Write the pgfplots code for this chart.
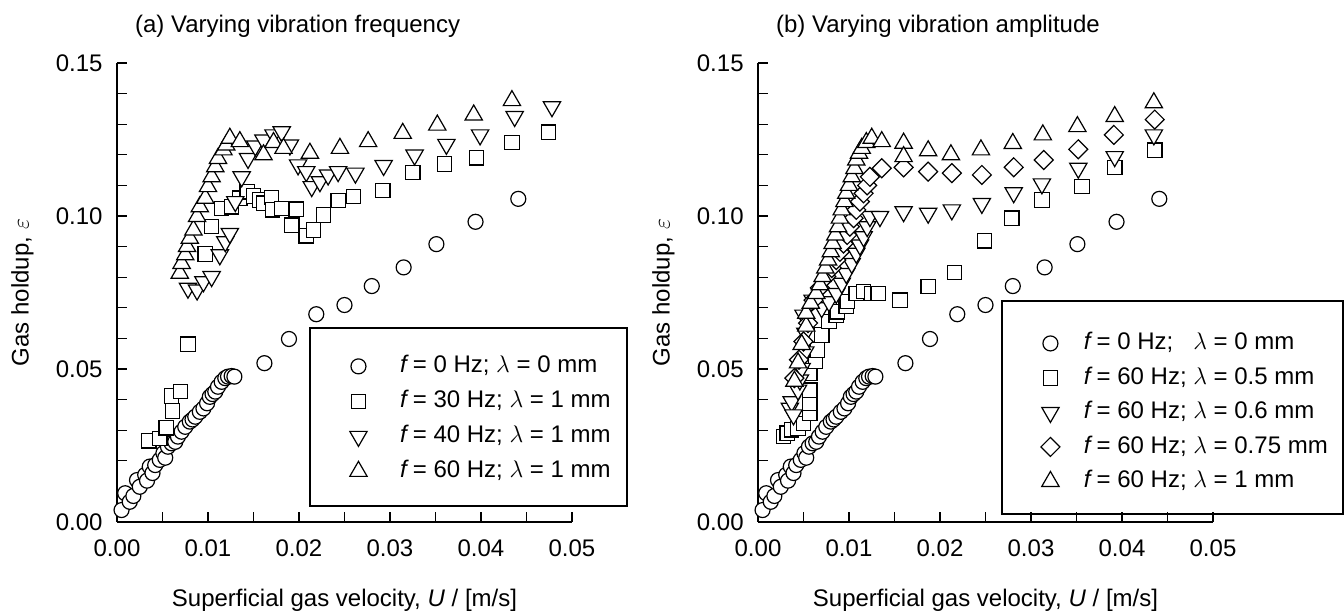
\documentclass[border=0pt]{standalone}
\usepackage{pgfplots}
\pgfplotsset{compat=1.18}
\usepackage{fontspec}
\setmainfont{Liberation Sans}
\begin{document}
\begin{tikzpicture}[font=\fontsize{12}{14.4}\selectfont]
\pgfplotsset{
  myaxis/.style={
    scale only axis, width=227.5pt, height=229.5pt,
    xmin=0, xmax=0.05, ymin=0, ymax=0.15,
    axis lines=left, axis line style={-, line width=0.6pt},
    tick align=inside, major tick length=5pt, minor tick length=5pt,
    every tick/.style={black, line width=0.6pt},
    xtick={0,0.01,0.02,0.03,0.04,0.05}, minor x tick num=1,
    ytick={0,0.05,0.1,0.15}, minor y tick num=4,
    scaled ticks=false,
    /pgf/number format/fixed, /pgf/number format/fixed zerofill,
    /pgf/number format/precision=2, /pgf/number format/assume math mode=true,
    xticklabel style={anchor=base, yshift=-17.5pt, inner sep=0pt},
    yticklabel style={anchor=east, xshift=-7pt, inner sep=0pt},
    clip=false,
    xlabel={Superficial gas velocity, \textit{U} / [m/s]},
    ylabel={Gas holdup, $\varepsilon$},
    xlabel style={at={(axis description cs:0.5,0)}, anchor=base, yshift=-42.5pt},
    ylabel style={at={(axis description cs:-0.2077,0.5)}, anchor=center, rotate=0},
    legend cell align=left,
    legend image code/.code={\draw[#1] plot coordinates {(0pt,0pt)};},
  },
  mcirc/.style={only marks, mark=*, mark size=3.75pt, mark options={fill=white, draw=black, line width=0.6pt}},
  msq/.style={only marks, mark=square*, mark size=3.6pt, mark options={fill=white, draw=black, line width=0.6pt}},
  mdown/.style={only marks, mark=triangle*, mark size=5pt, mark options={fill=white, draw=black, line width=0.6pt, rotate=180}},
  mup/.style={only marks, mark=triangle*, mark size=5pt, mark options={fill=white, draw=black, line width=0.6pt}},
  mdia/.style={only marks, mark=square*, mark size=3.35pt, mark options={fill=white, draw=black, line width=0.6pt, rotate=45}},
}
% ---------------- (a) ----------------
\begin{axis}[myaxis,
  legend style={draw=none, fill=none, inner sep=0pt, row sep=6pt, column sep=16.5pt,
    nodes={inner sep=0pt, text height=9pt, text depth=2.5pt},
    at={(axis cs:0.02554,0.0337)}, anchor=west}]
\addplot[mcirc] coordinates {
(0.0005,0.0039) (0.0009,0.0094) (0.0014,0.0066) (0.0018,0.0085) (0.0022,0.0137)
(0.0025,0.0115) (0.0031,0.0154) (0.0033,0.0135) (0.0036,0.0181) (0.0039,0.0160)
(0.0042,0.0186) (0.0047,0.0203) (0.0051,0.0225) (0.0053,0.0210) (0.0056,0.0246)
(0.0060,0.0257) (0.0064,0.0262) (0.0067,0.0279) (0.0071,0.0295) (0.0075,0.0311)
(0.0080,0.0328) (0.0083,0.0335) (0.0086,0.0344) (0.0091,0.0360) (0.0095,0.0371)
(0.0099,0.0388) (0.0102,0.0409) (0.0105,0.0418) (0.0108,0.0426) (0.0111,0.0442)
(0.0115,0.0458) (0.0119,0.0470) (0.0122,0.0475) (0.0126,0.0477) (0.0129,0.0475)
(0.0162,0.0519) (0.0189,0.0598) (0.0219,0.0679) (0.0250,0.0709) (0.0280,0.0771)
(0.0315,0.0832) (0.0351,0.0908) (0.0394,0.0981) (0.0441,0.1056)};
\addlegendentry{\textit{f}\,= 0 Hz; $\lambda$ = 0 mm}
\addplot[msq] coordinates {
(0.0035,0.0265) (0.0047,0.0273) (0.0054,0.0308) (0.0061,0.0363) (0.0060,0.0412)
(0.0070,0.0426) (0.0078,0.0581) (0.0097,0.0876) (0.0104,0.0965) (0.0115,0.1025)
(0.0126,0.1030) (0.0135,0.1058) (0.0143,0.1079) (0.0150,0.1065) (0.0157,0.1052)
(0.0161,0.1042) (0.0170,0.1061) (0.0171,0.1020) (0.0181,0.1025) (0.0192,0.0970)
(0.0197,0.1022) (0.0208,0.0935) (0.0216,0.0954) (0.0227,0.1003) (0.0243,0.1050)
(0.0260,0.1064) (0.0292,0.1083) (0.0325,0.1142) (0.0360,0.1170) (0.0395,0.1190)
(0.0434,0.1240) (0.0474,0.1274)};
\addlegendentry{\textit{f}\,= 30 Hz; $\lambda$ = 1 mm}
\addplot[mdown] coordinates {
(0.0078,0.0764) (0.0088,0.0758) (0.0095,0.0785) (0.0104,0.0802) (0.0113,0.0873)
(0.0119,0.0916) (0.0124,0.0943) (0.0130,0.1047) (0.0137,0.1128) (0.0144,0.1188)
(0.0152,0.1229) (0.0161,0.1248) (0.0172,0.1265) (0.0181,0.1275) (0.0190,0.1232)
(0.0199,0.1167) (0.0208,0.1145) (0.0214,0.1096) (0.0223,0.1112) (0.0232,0.1134)
(0.0243,0.1145) (0.0262,0.1140) (0.0293,0.1165) (0.0327,0.1199) (0.0362,0.1234)
(0.0399,0.1265) (0.0437,0.1325) (0.0478,0.1357)};
\addlegendentry{\textit{f}\,= 40 Hz; $\lambda$ = 1 mm}
\addplot[mup] coordinates {
(0.0069,0.0813) (0.0071,0.0845) (0.0075,0.0873) (0.0077,0.0900) (0.0080,0.0927)
(0.0084,0.0954) (0.0088,0.0998) (0.0091,0.1030) (0.0097,0.1058) (0.0100,0.1096)
(0.0104,0.1128) (0.0108,0.1161) (0.0111,0.1188) (0.0117,0.1216) (0.0120,0.1232)
(0.0124,0.1254) (0.0135,0.1243) (0.0161,0.1200) (0.0172,0.1240) (0.0183,0.1221)
(0.0212,0.1205) (0.0245,0.1221) (0.0276,0.1243) (0.0314,0.1270) (0.0352,0.1297)
(0.0392,0.1330) (0.0434,0.1377)};
\addlegendentry{\textit{f}\,= 60 Hz; $\lambda$ = 1 mm}
\draw[line width=0.6pt] (axis cs:0.02121,0.00523) rectangle (axis cs:0.05604,0.0634);
\node[anchor=base west] at (rel axis cs:0,1) [xshift=5.5pt, yshift=15pt] {(a) Varying vibration frequency};
\end{axis}
% ---------------- (b) ----------------
\begin{axis}[myaxis, at={(320.5pt,0pt)},
  legend style={draw=none, fill=none, inner sep=0pt, row sep=5.75pt, column sep=12pt,
    nodes={inner sep=0pt, text height=9pt, text depth=2.5pt},
    at={(axis cs:0.03105,0.0358)}, anchor=west}]
\addplot[mcirc] coordinates {
(0.0005,0.0039) (0.0009,0.0094) (0.0014,0.0066) (0.0018,0.0085) (0.0022,0.0137)
(0.0025,0.0115) (0.0031,0.0154) (0.0033,0.0135) (0.0036,0.0181) (0.0039,0.0160)
(0.0042,0.0186) (0.0047,0.0203) (0.0051,0.0225) (0.0053,0.0210) (0.0056,0.0246)
(0.0060,0.0257) (0.0064,0.0262) (0.0067,0.0279) (0.0071,0.0295) (0.0075,0.0311)
(0.0080,0.0328) (0.0083,0.0335) (0.0086,0.0344) (0.0091,0.0360) (0.0095,0.0371)
(0.0099,0.0388) (0.0102,0.0409) (0.0105,0.0418) (0.0108,0.0426) (0.0111,0.0442)
(0.0115,0.0458) (0.0119,0.0470) (0.0122,0.0475) (0.0126,0.0477) (0.0129,0.0475)
(0.0162,0.0519) (0.0189,0.0598) (0.0219,0.0679) (0.0250,0.0709) (0.0280,0.0771)
(0.0315,0.0832) (0.0351,0.0908) (0.0394,0.0981) (0.0441,0.1056)};
\addlegendentry{\textit{f}\,= 0 Hz;\hphantom{0} $\lambda$ = 0 mm}
\addplot[msq] coordinates {
(0.0028,0.0279) (0.0032,0.0290) (0.0037,0.0301) (0.0044,0.0306) (0.0050,0.0322)
(0.0057,0.0355) (0.0057,0.0388) (0.0057,0.0431) (0.0057,0.0486) (0.0063,0.0524)
(0.0065,0.0562) (0.0070,0.0611) (0.0078,0.0655) (0.0086,0.0676) (0.0087,0.0687)
(0.0097,0.0704) (0.0098,0.0720) (0.0108,0.0747) (0.0116,0.0753) (0.0125,0.0747)
(0.0132,0.0747) (0.0156,0.0725) (0.0187,0.0769) (0.0216,0.0815) (0.0249,0.0919)
(0.0279,0.0993) (0.0312,0.1052) (0.0356,0.1096) (0.0392,0.1159) (0.0436,0.1215)};
\addlegendentry{\textit{f}\,= 60 Hz; $\lambda$ = 0.5 mm}
\addplot[mdown] coordinates {
(0.0035,0.0372) (0.0037,0.0393) (0.0039,0.0350) (0.0044,0.0431) (0.0046,0.0464)
(0.0048,0.0502) (0.0052,0.0556) (0.0052,0.0617) (0.0050,0.0676) (0.0060,0.0725)
(0.0070,0.0700) (0.0078,0.0720) (0.0086,0.0747) (0.0092,0.0780) (0.0097,0.0812)
(0.0103,0.0845) (0.0108,0.0878) (0.0112,0.0905) (0.0116,0.0932) (0.0120,0.0965)
(0.0123,0.0998) (0.0134,0.0998) (0.0160,0.1014) (0.0187,0.1009) (0.0213,0.1020)
(0.0246,0.1041) (0.0281,0.1076) (0.0312,0.1105) (0.0352,0.1156) (0.0392,0.1194)
(0.0435,0.1265)};
\addlegendentry{\textit{f}\,= 60 Hz; $\lambda$ = 0.6 mm}
\addplot[mdia] coordinates {
(0.0040,0.0470) (0.0045,0.0530) (0.0050,0.0590) (0.0055,0.0650) (0.0061,0.0725)
(0.0068,0.0765) (0.0075,0.0802) (0.0081,0.0830) (0.0086,0.0856) (0.0090,0.0883)
(0.0094,0.0910) (0.0098,0.0938) (0.0101,0.0965) (0.0105,0.0993) (0.0108,0.1020)
(0.0112,0.1047) (0.0116,0.1074) (0.0120,0.1100) (0.0123,0.1128) (0.0136,0.1156)
(0.0160,0.1159) (0.0187,0.1145) (0.0213,0.1140) (0.0246,0.1134) (0.0281,0.1159)
(0.0314,0.1183) (0.0352,0.1218) (0.0391,0.1265) (0.0436,0.1315)};
\addlegendentry{\textit{f}\,= 60 Hz; $\lambda$ = 0.75 mm}
\addplot[mup] coordinates {
(0.0040,0.0460) (0.0044,0.0520) (0.0048,0.0580) (0.0053,0.0640) (0.0053,0.0682)
(0.0058,0.0715) (0.0064,0.0747) (0.0068,0.0775) (0.0071,0.0802) (0.0074,0.0830)
(0.0077,0.0856) (0.0080,0.0883) (0.0082,0.0910) (0.0085,0.0938) (0.0088,0.0965)
(0.0090,0.0993) (0.0092,0.1020) (0.0095,0.1047) (0.0097,0.1074) (0.0100,0.1100)
(0.0103,0.1128) (0.0106,0.1155) (0.0108,0.1183) (0.0111,0.1205) (0.0114,0.1221)
(0.0119,0.1240) (0.0125,0.1254) (0.0136,0.1243) (0.0160,0.1238) (0.0160,0.1194)
(0.0187,0.1213) (0.0212,0.1200) (0.0245,0.1216) (0.0280,0.1237) (0.0313,0.1265)
(0.0351,0.1292) (0.0392,0.1325) (0.0435,0.1370)};
\addlegendentry{\textit{f}\,= 60 Hz; $\lambda$ = 1 mm}
\draw[line width=0.6pt] (axis cs:0.02681,0.00261) rectangle (axis cs:0.06429,0.0722);
\node[anchor=base west] at (rel axis cs:0,1) [xshift=5.5pt, yshift=15pt] {(b) Varying vibration amplitude};
\end{axis}
\pgfresetboundingbox
\path (-58.5pt,-45.5pt) rectangle (613.5pt,261pt);
\end{tikzpicture}
\end{document}
